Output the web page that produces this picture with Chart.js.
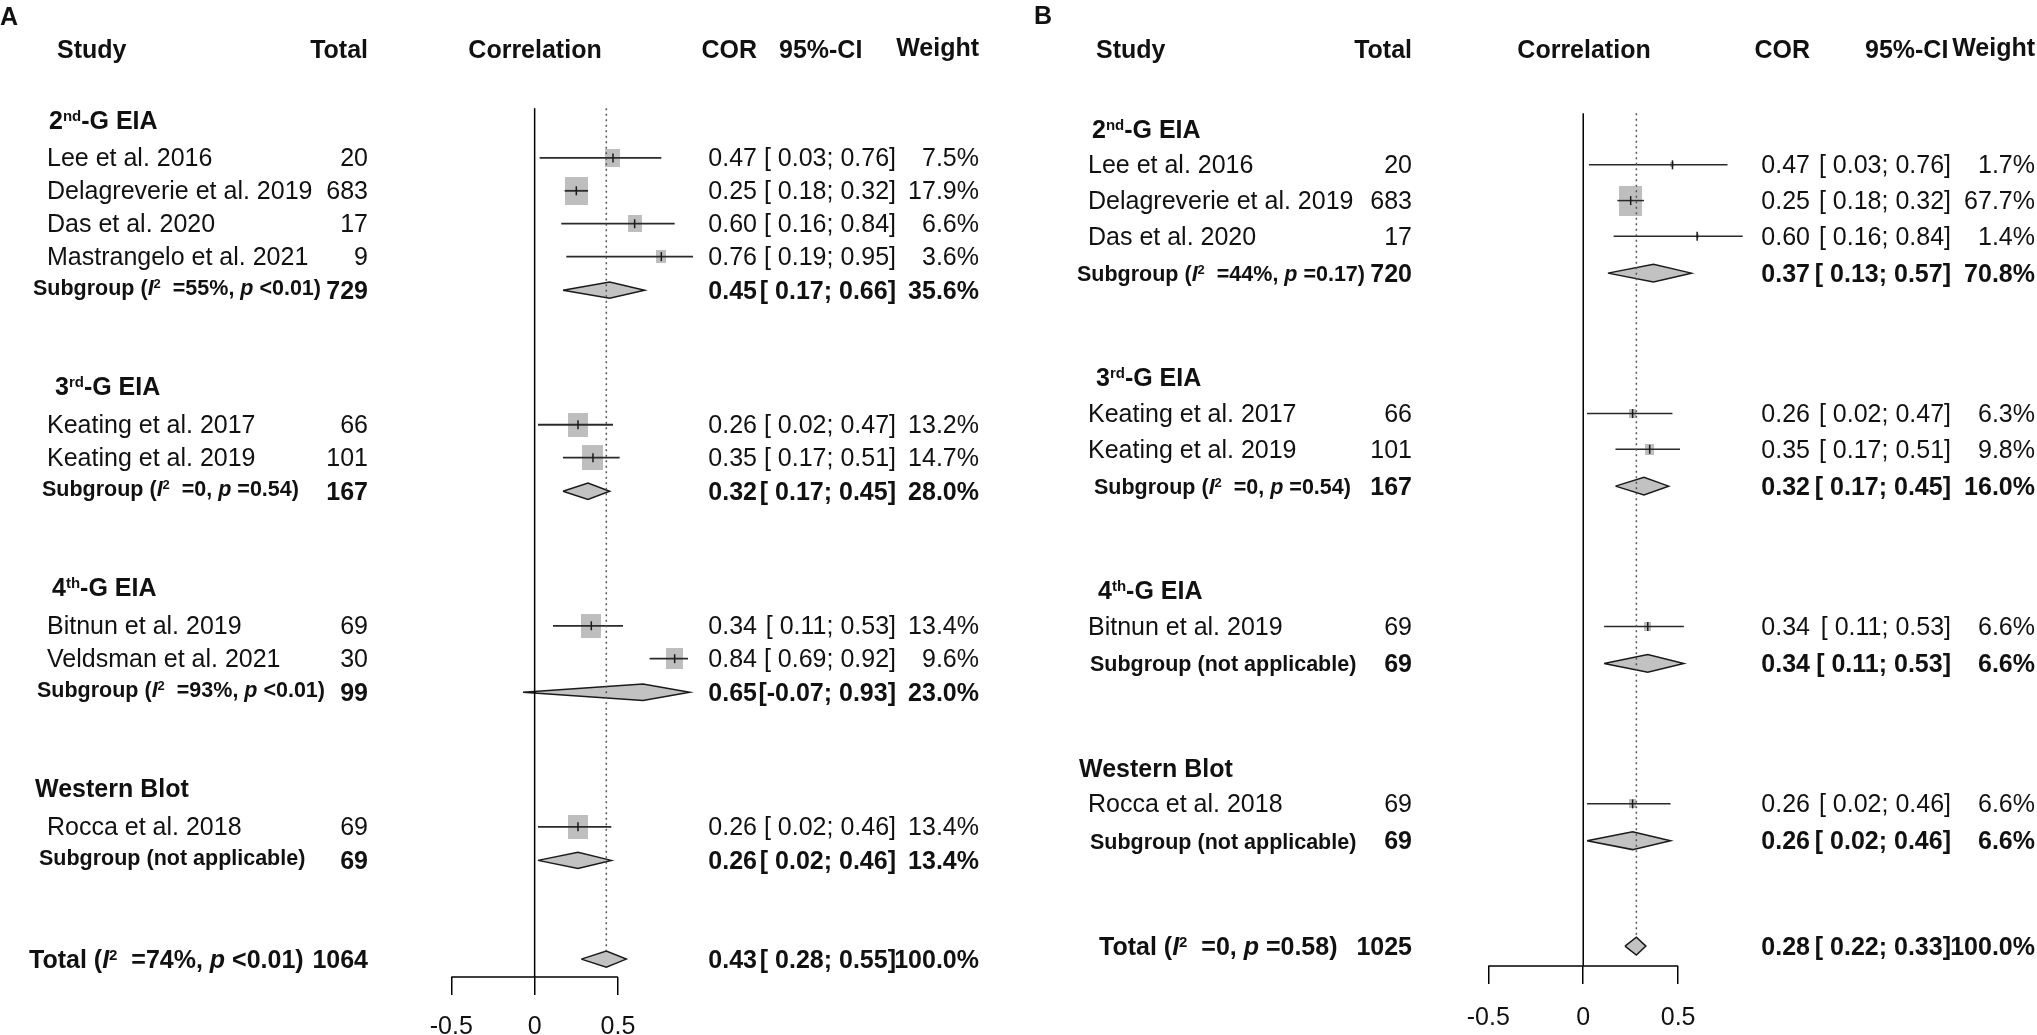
<!DOCTYPE html>
<html><head><meta charset="utf-8">
<script src="https://cdn.jsdelivr.net/npm/chart.js@4.4.1/dist/chart.umd.min.js"></script>
<style>
html,body{margin:0;padding:0;background:#fff;width:2037px;height:1035px;overflow:hidden;position:relative;}
canvas{position:absolute;top:0;}
</style></head><body>
<canvas id="cA"></canvas>
<canvas id="cB"></canvas>
<script>
// ---------------- DATA ----------------
const groupNames = ['2nd-G EIA', '3rd-G EIA', '4th-G EIA', 'Western Blot'];
const headerLabels = ['Study', 'Total', 'Correlation', 'COR', '95%-CI', 'Weight'];
const tickValues = [-0.5, 0, 0.5];
const tickLabels = ['-0.5', '0', '0.5'];

// Panel A
const studiesA = ['Lee et al. 2016', 'Delagreverie et al. 2019', 'Das et al. 2020', 'Mastrangelo et al. 2021',
  'Keating et al. 2017', 'Keating et al. 2019', 'Bitnun et al. 2019', 'Veldsman et al. 2021', 'Rocca et al. 2018'];
const groupA = [0, 0, 0, 0, 1, 1, 2, 2, 3];
const nA = [20, 683, 17, 9, 66, 101, 69, 30, 69];
const corA = [0.47, 0.25, 0.60, 0.76, 0.26, 0.35, 0.34, 0.84, 0.26];
const loA = [0.03, 0.18, 0.16, 0.19, 0.02, 0.17, 0.11, 0.69, 0.02];
const hiA = [0.76, 0.32, 0.84, 0.95, 0.47, 0.51, 0.53, 0.92, 0.46];
const weightA = [7.5, 17.9, 6.6, 3.6, 13.2, 14.7, 13.4, 9.6, 13.4];
const subNA = [729, 167, 99, 69];
const subCorA = [0.45, 0.32, 0.65, 0.26];
const subLoA = [0.17, 0.17, -0.07, 0.02];
const subHiA = [0.66, 0.45, 0.93, 0.46];
const subWeightA = [35.6, 28.0, 23.0, 13.4];
const subI2A = ['55%', '0', '93%', null];
const subPA = ['<0.01', '=0.54', '<0.01', null];
const totalNA = 1064;
const totalCorA = [0.43, 0.28, 0.55];   // estimate, lower, upper
const totalWeightA = 100.0;
const totalHetA = ['74%', '<0.01'];

// Panel B
const studiesB = ['Lee et al. 2016', 'Delagreverie et al. 2019', 'Das et al. 2020',
  'Keating et al. 2017', 'Keating et al. 2019', 'Bitnun et al. 2019', 'Rocca et al. 2018'];
const groupB = [0, 0, 0, 1, 1, 2, 3];
const nB = [20, 683, 17, 66, 101, 69, 69];
const corB = [0.47, 0.25, 0.60, 0.26, 0.35, 0.34, 0.26];
const loB = [0.03, 0.18, 0.16, 0.02, 0.17, 0.11, 0.02];
const hiB = [0.76, 0.32, 0.84, 0.47, 0.51, 0.53, 0.46];
const weightB = [1.7, 67.7, 1.4, 6.3, 9.8, 6.6, 6.6];
const subNB = [720, 167, 69, 69];
const subCorB = [0.37, 0.32, 0.34, 0.26];
const subLoB = [0.13, 0.17, 0.11, 0.02];
const subHiB = [0.57, 0.45, 0.53, 0.46];
const subWeightB = [70.8, 16.0, 6.6, 6.6];
const subI2B = ['44%', '0', null, null];
const subPB = ['=0.17', '=0.54', null, null];
const totalNB = 1025;
const totalCorB = [0.28, 0.22, 0.33];
const totalWeightB = 100.0;
const totalHetB = ['0', '=0.58'];

// ---------------- LAYOUT (pixels) ----------------
const FONT = "'Liberation Sans', Arial, Helvetica, sans-serif";
const TXT = '#111';
const LAYOUT_A = {
  left: 0, width: 1018, x0: 535, xUnit: 169, y0: 152, yUnit: 33.14, axisY: 977, refTop: 102,
  headGap: 1.15, subGap: 1.02, nextHead: 2.94, totalGap: 3.0,
  boxW: 23, boxH: 28, diamondH: 8.2, tickPad: 17, ciWidth: 1.8,
  letter: 'A', letterX: 0, letterBase: 25, hdrBase: 58,
  studyHdrX: 57, totalR: 368, corR: 757, ciR: 896, wR: 979, ciHdrX: 779,
  studyX: 47, headX: [49, 55, 52, 35], subX: [33, 42, 37, 39], totalX: 29, subDy: 4.5
};
const LAYOUT_B = {
  left: 1018, width: 1019, x0: 1584, xUnit: 192.5, y0: 159, yUnit: 36, axisY: 966, refTop: 107,
  headGap: 1.0, subGap: 1.03, nextHead: 2.93, totalGap: 2.95,
  boxW: 23.3, boxH: 29.7, diamondH: 9, tickPad: 19, ciWidth: 1.5,
  letter: 'B', letterX: 1034, letterBase: 24, hdrBase: 58,
  studyHdrX: 1096, totalR: 1412, corR: 1810, ciR: 1951, wR: 2035, ciHdrX: 1865,
  studyX: 1088, headX: [1092, 1096, 1098, 1079], subX: [1077, 1094, 1090, 1090], totalX: 1099, subDy: 8
};

// ---------------- HELPERS ----------------
function fontStr(s) { return (s.italic ? 'italic ' : '') + (s.bold ? 'bold ' : '') + s.size + 'px ' + FONT; }
function drawRich(ctx, segs, x, y, align) {
  let total = 0;
  segs.forEach(s => { ctx.font = fontStr(s); s.w = ctx.measureText(s.t).width; total += s.w; });
  let cx = align === 'right' ? x - total : (align === 'center' ? x - total / 2 : x);
  ctx.textAlign = 'left'; ctx.textBaseline = 'alphabetic'; ctx.fillStyle = TXT;
  segs.forEach(s => { ctx.font = fontStr(s); ctx.fillText(s.t, cx, y - (s.rise || 0)); cx += s.w; });
}
function txt(ctx, t, x, y, align, size, bold) { drawRich(ctx, [{t, size, bold}], x, y, align); }
function ciText(lo, hi) {
  const f = v => (v < 0 ? v.toFixed(2) : ' ' + v.toFixed(2));
  return '[' + f(lo) + '; ' + hi.toFixed(2) + ']';
}
function headingSegs(name) {
  const m = name.match(/^(\d)(nd|rd|th)(.*)$/);
  if (!m) return [{t: name, size: 25, bold: true}];
  return [{t: m[1], size: 25, bold: true}, {t: m[2], size: 15, bold: true, rise: 8}, {t: m[3], size: 25, bold: true}];
}
function hetSegs(prefix, i2, p, size, supSize, rise) {
  if (i2 === null) return [{t: prefix + ' (not applicable)', size, bold: true}];
  return [{t: prefix + ' (', size, bold: true}, {t: 'I', size, bold: true, italic: true},
    {t: '2', size: supSize, bold: true, rise}, {t: '  =' + i2 + ', ', size, bold: true},
    {t: 'p', size, bold: true, italic: true}, {t: ' ' + p + ')', size, bold: true}];
}
function computeRows(group, nGroups, L) {
  const head = [], study = [], sub = [];
  let pos = 0;
  for (let g = 0; g < nGroups; g++) {
    head[g] = pos - L.headGap;
    let k = 0;
    group.forEach((gg, i) => { if (gg === g) { study[i] = pos + k; k++; } });
    sub[g] = pos + (k - 1) + L.subGap;
    pos = sub[g] + L.nextHead + L.headGap;
  }
  return {head, study, sub, total: sub[nGroups - 1] + L.totalGap};
}
function boxCanvas(w, h) {
  const c = document.createElement('canvas');
  c.width = Math.max(1, Math.round(w)); c.height = Math.max(1, Math.round(h));
  const g = c.getContext('2d'); g.fillStyle = '#bebebe'; g.fillRect(0, 0, c.width, c.height);
  return c;
}

function buildPanel(canvasId, L, D) {
  const cv = document.getElementById(canvasId);
  const H = L.axisY + 18 + 30 + 2 * L.tickPad;
  cv.width = L.width; cv.height = H;
  cv.style.left = L.left + 'px'; cv.style.width = L.width + 'px'; cv.style.height = H + 'px';

  const rows = computeRows(D.group, groupNames.length, L);
  const toVal = px => (px - L.y0) / L.yUnit;
  const yMin = toVal(0), yMax = toVal(L.axisY);
  const xMin = -(L.x0 - L.left) / L.xUnit, xMax = (L.left + L.width - L.x0) / L.xUnit;
  const maxW = Math.max(...D.weight);
  const dh = L.diamondH / L.yUnit;
  const ds = [];

  // squares
  ds.push({data: D.cor.map((c, i) => ({x: c, y: rows.study[i]})), showLine: false,
    pointStyle: D.weight.map(w => boxCanvas(L.boxW * Math.sqrt(w / maxW), L.boxH * Math.sqrt(w / maxW))),
    pointRadius: 6, order: 8, clip: false});
  // CI lines
  D.lo.forEach((lo, i) => ds.push({data: [{x: lo, y: rows.study[i]}, {x: D.hi[i], y: rows.study[i]}],
    showLine: true, pointRadius: 0, borderColor: '#2a2a2a', borderWidth: L.ciWidth, fill: false, order: 6, clip: false}));
  // estimate ticks
  ds.push({data: D.cor.map((c, i) => ({x: c, y: rows.study[i]})), showLine: false, pointStyle: 'line',
    rotation: 90, pointRadius: 4.5, borderColor: '#1a1a1a', borderWidth: 1.5, order: 4, clip: false});
  // diamonds (subgroups + total)
  const dia = (est, lo, hi, r) => ({data: [{x: lo, y: r}, {x: est, y: r - dh}, {x: hi, y: r}, {x: est, y: r + dh}, {x: lo, y: r}],
    showLine: true, pointRadius: 0, borderColor: '#1a1a1a', borderWidth: 1.5, backgroundColor: '#c2c2c2',
    fill: 'shape', borderJoinStyle: 'miter', order: 3, clip: false});
  D.subCor.forEach((c, g) => ds.push(dia(c, D.subLo[g], D.subHi[g], rows.sub[g])));
  ds.push(dia(D.totalCor[0], D.totalCor[1], D.totalCor[2], rows.total));
  // reference lines
  ds.push({data: [{x: 0, y: toVal(L.refTop)}, {x: 0, y: yMax}], showLine: true, pointRadius: 0,
    borderColor: '#000', borderWidth: 1.5, order: 1, clip: false});
  ds.push({data: [{x: D.totalCor[0], y: toVal(L.refTop)}, {x: D.totalCor[0], y: rows.total - dh}], showLine: true, pointRadius: 0,
    borderColor: '#555', borderWidth: 1.5, borderDash: [2, 3.5], order: 1, clip: false});
  // x axis line
  ds.push({data: [{x: tickValues[0], y: yMax}, {x: tickValues[tickValues.length - 1], y: yMax}], showLine: true, pointRadius: 0,
    borderColor: '#000', borderWidth: 1.5, order: 1, clip: false});

  const X = gx => gx - L.left;
  const textPlugin = {
    id: 'forestText',
    afterDraw(chart) {
      const ctx = chart.ctx, ys = chart.scales.y;
      const Y = r => ys.getPixelForValue(r);
      ctx.save();
      // panel letter and header
      txt(ctx, L.letter, X(L.letterX), L.letterBase, 'left', 25, true);
      txt(ctx, headerLabels[0], X(L.studyHdrX), L.hdrBase, 'left', 25, true);
      txt(ctx, headerLabels[1], X(L.totalR), L.hdrBase, 'right', 25, true);
      txt(ctx, headerLabels[2], X(L.x0), L.hdrBase, 'center', 25, true);
      txt(ctx, headerLabels[3], X(L.corR), L.hdrBase, 'right', 25, true);
      txt(ctx, headerLabels[4], X(L.ciHdrX), L.hdrBase, 'left', 25, true);
      txt(ctx, headerLabels[5], X(L.wR), L.hdrBase - 2, 'right', 25, true);
      // groups
      groupNames.forEach((g, gi) => drawRich(ctx, headingSegs(g), X(L.headX[gi]), Y(rows.head[gi]) + 8.5, 'left'));
      // studies
      D.names.forEach((nm, i) => {
        const y = Y(rows.study[i]) + 8.5;
        txt(ctx, nm, X(L.studyX), y, 'left', 25, false);
        txt(ctx, String(D.n[i]), X(L.totalR), y, 'right', 25, false);
        txt(ctx, D.cor[i].toFixed(2), X(L.corR), y, 'right', 25, false);
        txt(ctx, ciText(D.lo[i], D.hi[i]), X(L.ciR), y, 'right', 25, false);
        txt(ctx, D.weight[i].toFixed(1) + '%', X(L.wR), y, 'right', 25, false);
      });
      // subgroups
      D.subN.forEach((n, g) => {
        const y = Y(rows.sub[g]) + 8.5;
        drawRich(ctx, hetSegs('Subgroup', D.subI2[g], D.subP[g], 21.5, 13, 7), X(L.subX[g]), Y(rows.sub[g]) + L.subDy, 'left');
        txt(ctx, String(n), X(L.totalR), y, 'right', 25, true);
        txt(ctx, D.subCor[g].toFixed(2), X(L.corR), y, 'right', 25, true);
        txt(ctx, ciText(D.subLo[g], D.subHi[g]), X(L.ciR), y, 'right', 25, true);
        txt(ctx, D.subWeight[g].toFixed(1) + '%', X(L.wR), y, 'right', 25, true);
      });
      // total
      const yt = Y(rows.total) + 8.5;
      drawRich(ctx, hetSegs('Total', D.totalHet[0], D.totalHet[1], 25, 15, 8), X(L.totalX), yt, 'left');
      txt(ctx, String(D.totalN), X(L.totalR), yt, 'right', 25, true);
      txt(ctx, D.totalCor[0].toFixed(2), X(L.corR), yt, 'right', 25, true);
      txt(ctx, ciText(D.totalCor[1], D.totalCor[2]), X(L.ciR), yt, 'right', 25, true);
      txt(ctx, D.totalWeight.toFixed(1) + '%', X(L.wR), yt, 'right', 25, true);
      ctx.restore();
    }
  };

  return new Chart(cv, {
    type: 'line',
    data: {datasets: ds},
    options: {
      responsive: false, animation: false, devicePixelRatio: 1,
      layout: {padding: 0},
      plugins: {legend: {display: false}, tooltip: {enabled: false}},
      events: [],
      scales: {
        x: {type: 'linear', position: 'bottom', min: xMin, max: xMax, bounds: 'data',
          afterBuildTicks: s => { s.ticks = tickValues.map(v => ({value: v})); },
          ticks: {callback: (v, i) => tickLabels[i], color: TXT, font: {family: FONT, size: 25},
            padding: L.tickPad, maxRotation: 0, minRotation: 0, autoSkip: false},
          grid: {display: true, drawOnChartArea: false, drawTicks: true, tickLength: 18, color: '#000', lineWidth: 1.5},
          border: {display: false}},
        y: {type: 'linear', display: false, min: yMin, max: yMax, reverse: true}
      }
    },
    plugins: [textPlugin]
  });
}

buildPanel('cA', LAYOUT_A, {names: studiesA, group: groupA, n: nA, cor: corA, lo: loA, hi: hiA, weight: weightA,
  subN: subNA, subCor: subCorA, subLo: subLoA, subHi: subHiA, subWeight: subWeightA, subI2: subI2A, subP: subPA,
  totalN: totalNA, totalCor: totalCorA, totalWeight: totalWeightA, totalHet: totalHetA});
buildPanel('cB', LAYOUT_B, {names: studiesB, group: groupB, n: nB, cor: corB, lo: loB, hi: hiB, weight: weightB,
  subN: subNB, subCor: subCorB, subLo: subLoB, subHi: subHiB, subWeight: subWeightB, subI2: subI2B, subP: subPB,
  totalN: totalNB, totalCor: totalCorB, totalWeight: totalWeightB, totalHet: totalHetB});
</script>
</body></html>
